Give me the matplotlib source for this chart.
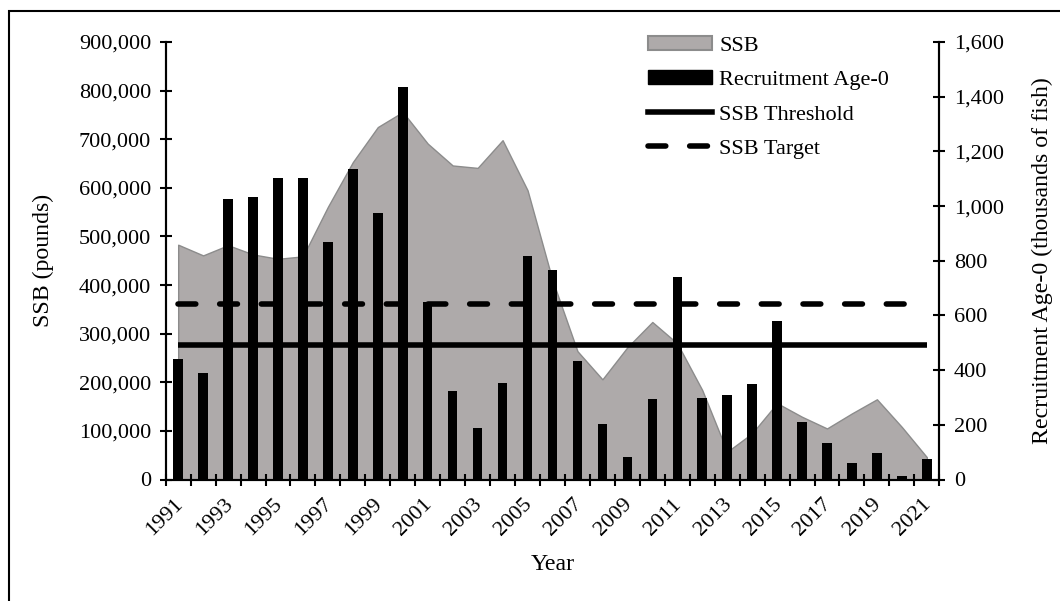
import numpy as np
import matplotlib
matplotlib.use("Agg")
import matplotlib.pyplot as plt
from matplotlib.patches import Patch, Rectangle
from matplotlib.lines import Line2D
from matplotlib.ticker import FuncFormatter

plt.rcParams['font.family'] = ['Liberation Serif', 'DejaVu Serif']

# data
years = list(range(1991, 2022))
ssb = [483000, 461000, 482000, 463000, 454000, 459000, 561000, 653000, 725000, 756000,
       691000, 646000, 641000, 698000, 595000, 410000, 264000, 206000, 272000, 324000,
       280000, 184000, 57000, 95000, 157000, 129000, 105000, 136000, 165000, 108000,
       46000]
recruits = [440, 388, 1026, 1034, 1104, 1104, 867, 1134, 976, 1436,
            649, 324, 189, 354, 817, 766, 434, 203, 83, 293,
            741, 299, 309, 349, 581, 211, 132, 59, 98, 13,
            74]
ssb_threshold = 277000
ssb_target = 362000

fs = 16       # tick labels / legend
fs_lab = 17.2  # axis titles
dash = (3.2, 4.3)
comma = FuncFormatter(lambda v, p: "{:,.0f}".format(v))

fig = plt.figure(figsize=(10.6, 6.01), dpi=100)
ax = fig.add_axes([165.7 / 1060, 1 - 479.5 / 601, (939.3 - 165.7) / 1060, (479.5 - 42) / 601])
ax2 = ax.twinx()

x = np.arange(len(years))

# SSB area on the left axis
ax.fill_between(x, ssb, 0, facecolor='#AEAAAA', edgecolor='#8C8C8C', linewidth=1.0, zorder=1)

# recruitment bars on the right axis
ax2.bar(x, recruits, width=0.38, color='black', zorder=2)

# threshold / target lines, converted to the right axis scale so they sit on top
scale = 1600 / 900000
ax2.plot(x, [ssb_threshold * scale] * len(x), color='black', lw=4, solid_capstyle='butt', zorder=3)
ax2.plot(x, [ssb_target * scale] * len(x), color='black', lw=4, dashes=dash,
         dash_capstyle='round', zorder=3)

ax.set_xlim(-0.5, len(years) - 0.5)
ax.set_ylim(0, 900000)
ax2.set_ylim(0, 1600)
ax.set_yticks(np.arange(0, 900001, 100000))
ax2.set_yticks(np.arange(0, 1601, 200))
ax.yaxis.set_major_formatter(comma)
ax2.yaxis.set_major_formatter(comma)

# x ticks: marks between categories, labels every other year
# (label anchors nudged a little left so the rotated text sits under its bar)
ax.set_xticks(x[::2] - 0.2)
ax.set_xticklabels([str(y) for y in years[::2]], rotation=45, ha='right',
                   rotation_mode='anchor', fontsize=fs)
ax.set_xticks(np.arange(-0.5, len(years)), minor=True)
ax.tick_params(axis='x', which='major', length=0, pad=11)
ax.tick_params(axis='x', which='minor', direction='inout', length=9, width=1.5, color='black')

ax.tick_params(axis='y', direction='inout', length=9, width=1.5, labelsize=fs, pad=6)
ax2.tick_params(axis='y', direction='inout', length=9, width=1.5, labelsize=fs, pad=6)

for a in (ax, ax2):
    a.spines['top'].set_visible(False)
    for s in ('left', 'right', 'bottom'):
        a.spines[s].set_linewidth(1.5)
        a.spines[s].set_color('black')

ax.set_ylabel('SSB (pounds)', fontsize=fs_lab, labelpad=18)
ax2.set_ylabel('Recruitment Age-0 (thousands of fish)', fontsize=fs_lab, labelpad=20)
ax.set_xlabel('Year', fontsize=fs_lab, labelpad=10)

handles = [
    Patch(facecolor='#AEAAAA', edgecolor='#8C8C8C', linewidth=1.5),
    Patch(facecolor='black', edgecolor='black'),
    Line2D([0], [0], color='black', lw=4),
    Line2D([0], [0], color='black', lw=4, dashes=dash, dash_capstyle='round'),
]
labels = ['SSB', 'Recruitment Age-0', 'SSB Threshold', 'SSB Target']
ax2.legend(handles, labels, loc='upper left', bbox_to_anchor=(648 / 1060, 1 - 36 / 601),
           bbox_transform=fig.transFigure, frameon=False, fontsize=fs,
           handlelength=2.9, handleheight=0.6, handletextpad=0.3, labelspacing=0.65,
           borderpad=0, borderaxespad=0)

# chart area frame (only left and top edges fall inside the image)
fig.patches.append(Rectangle((9 / 1060, -0.05), 1.2, 1 - 11 / 601 + 0.05, transform=fig.transFigure,
                             fill=False, edgecolor='black', linewidth=1.5))

fig.savefig('out.png', dpi=100)
